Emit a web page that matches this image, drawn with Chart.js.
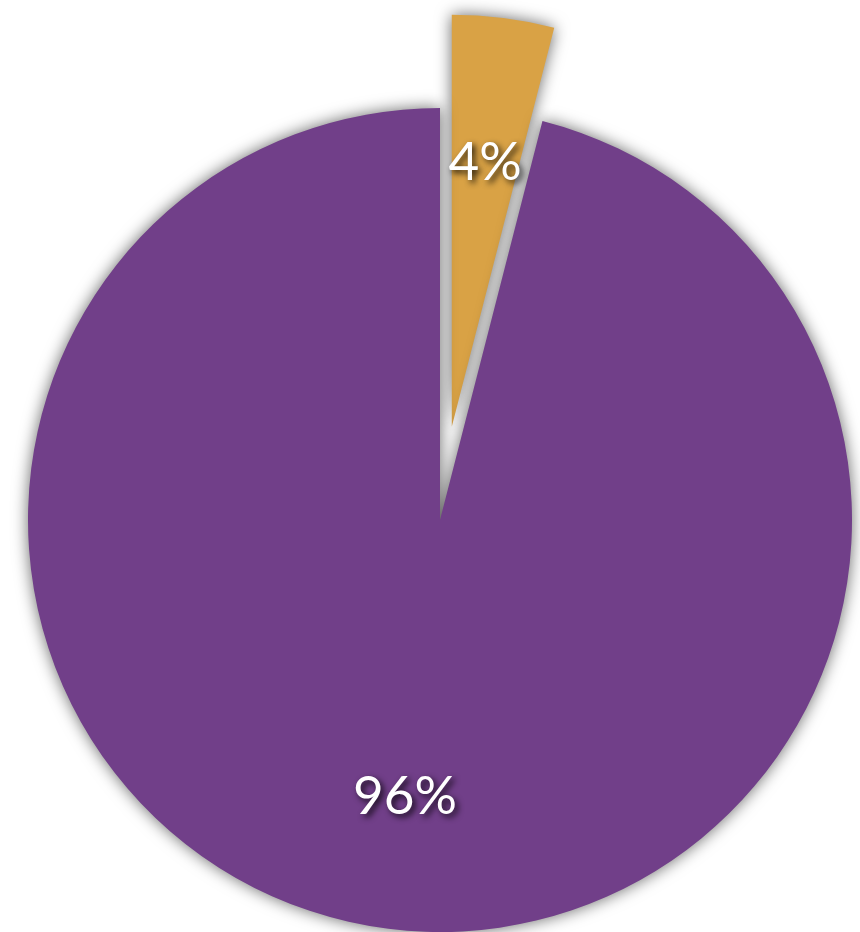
<!DOCTYPE html>
<html>
<head>
<meta charset="utf-8">
<script src="https://cdn.jsdelivr.net/npm/chart.js@4/dist/chart.umd.min.js"></script>
<style>
html,body{margin:0;padding:0;background:#fff;}
#wrap{width:860px;height:932px;position:relative;}
</style>
</head>
<body>
<div id="wrap"><canvas id="c" width="860" height="932"></canvas></div>
<script>
const categories = ["Gold", "Purple"];
const values = [4, 96];
const labelsText = ["4%", "96%"];
const sliceColors = ["#d9a245", "#713f89"];

// styling constants
const EXPLODE = 94;          // pull-out distance of the small slice (px)
const LABEL_FRAC = [0.645, 0.677];

function explodeShift(arc, i) {
  if (i !== 0) return {dx: 0, dy: 0};
  const mid = (arc.startAngle + arc.endAngle) / 2;
  return {dx: Math.cos(mid) * EXPLODE, dy: Math.sin(mid) * EXPLODE};
}

const explodePlugin = {
  id: 'explodePlugin',
  beforeDatasetDraw(chart) {
    const meta = chart.getDatasetMeta(0);
    meta.data.forEach((arc, i) => {
      if (arc._wrapped) return;
      const orig = arc.draw.bind(arc);
      arc.draw = function(ctx) {
        const s = explodeShift(this, i);
        ctx.save();
        ctx.translate(s.dx, s.dy);
        orig(ctx);
        ctx.restore();
      };
      arc._wrapped = true;
    });
    const ctx = chart.ctx;
    ctx.save();
    ctx.shadowColor = 'rgba(0,0,0,0.6)';
    ctx.shadowBlur = 16;
    ctx.shadowOffsetX = 0;
    ctx.shadowOffsetY = 0;
  },
  afterDatasetDraw(chart) {
    chart.ctx.restore();
  }
};

const labelPlugin = {
  id: 'labelPlugin',
  afterDatasetsDraw(chart) {
    const ctx = chart.ctx;
    const meta = chart.getDatasetMeta(0);
    meta.data.forEach((arc, i) => {
      const p = arc.getProps(['x','y','startAngle','endAngle','outerRadius'], true);
      const mid = (p.startAngle + p.endAngle) / 2;
      const s = explodeShift(arc, i);
      const r = p.outerRadius * LABEL_FRAC[i];
      const x = p.x + s.dx + Math.cos(mid) * r;
      const y = p.y + s.dy + Math.sin(mid) * r;
      ctx.save();
      ctx.font = '53px "Lato", "Open Sans", sans-serif';
      ctx.textAlign = 'center';
      ctx.textBaseline = 'middle';
      ctx.shadowColor = 'rgba(0,0,0,0.85)';
      ctx.shadowBlur = 6;
      ctx.shadowOffsetX = 3;
      ctx.shadowOffsetY = 3;
      ctx.fillStyle = '#ffffff';
      ctx.fillText(labelsText[i], x, y);
      ctx.restore();
    });
  }
};

new Chart(document.getElementById('c'), {
  type: 'pie',
  data: {
    labels: categories,
    datasets: [{
      data: values,
      backgroundColor: sliceColors,
      borderWidth: 0,
      clip: false
    }]
  },
  options: {
    responsive: false,
    animation: false,
    radius: 412,
    layout: { padding: { left: 20, top: 108, right: 0, bottom: 0 } },
    plugins: {
      legend: { display: false },
      tooltip: { enabled: false }
    }
  },
  plugins: [explodePlugin, labelPlugin]
});
</script>
</body>
</html>
